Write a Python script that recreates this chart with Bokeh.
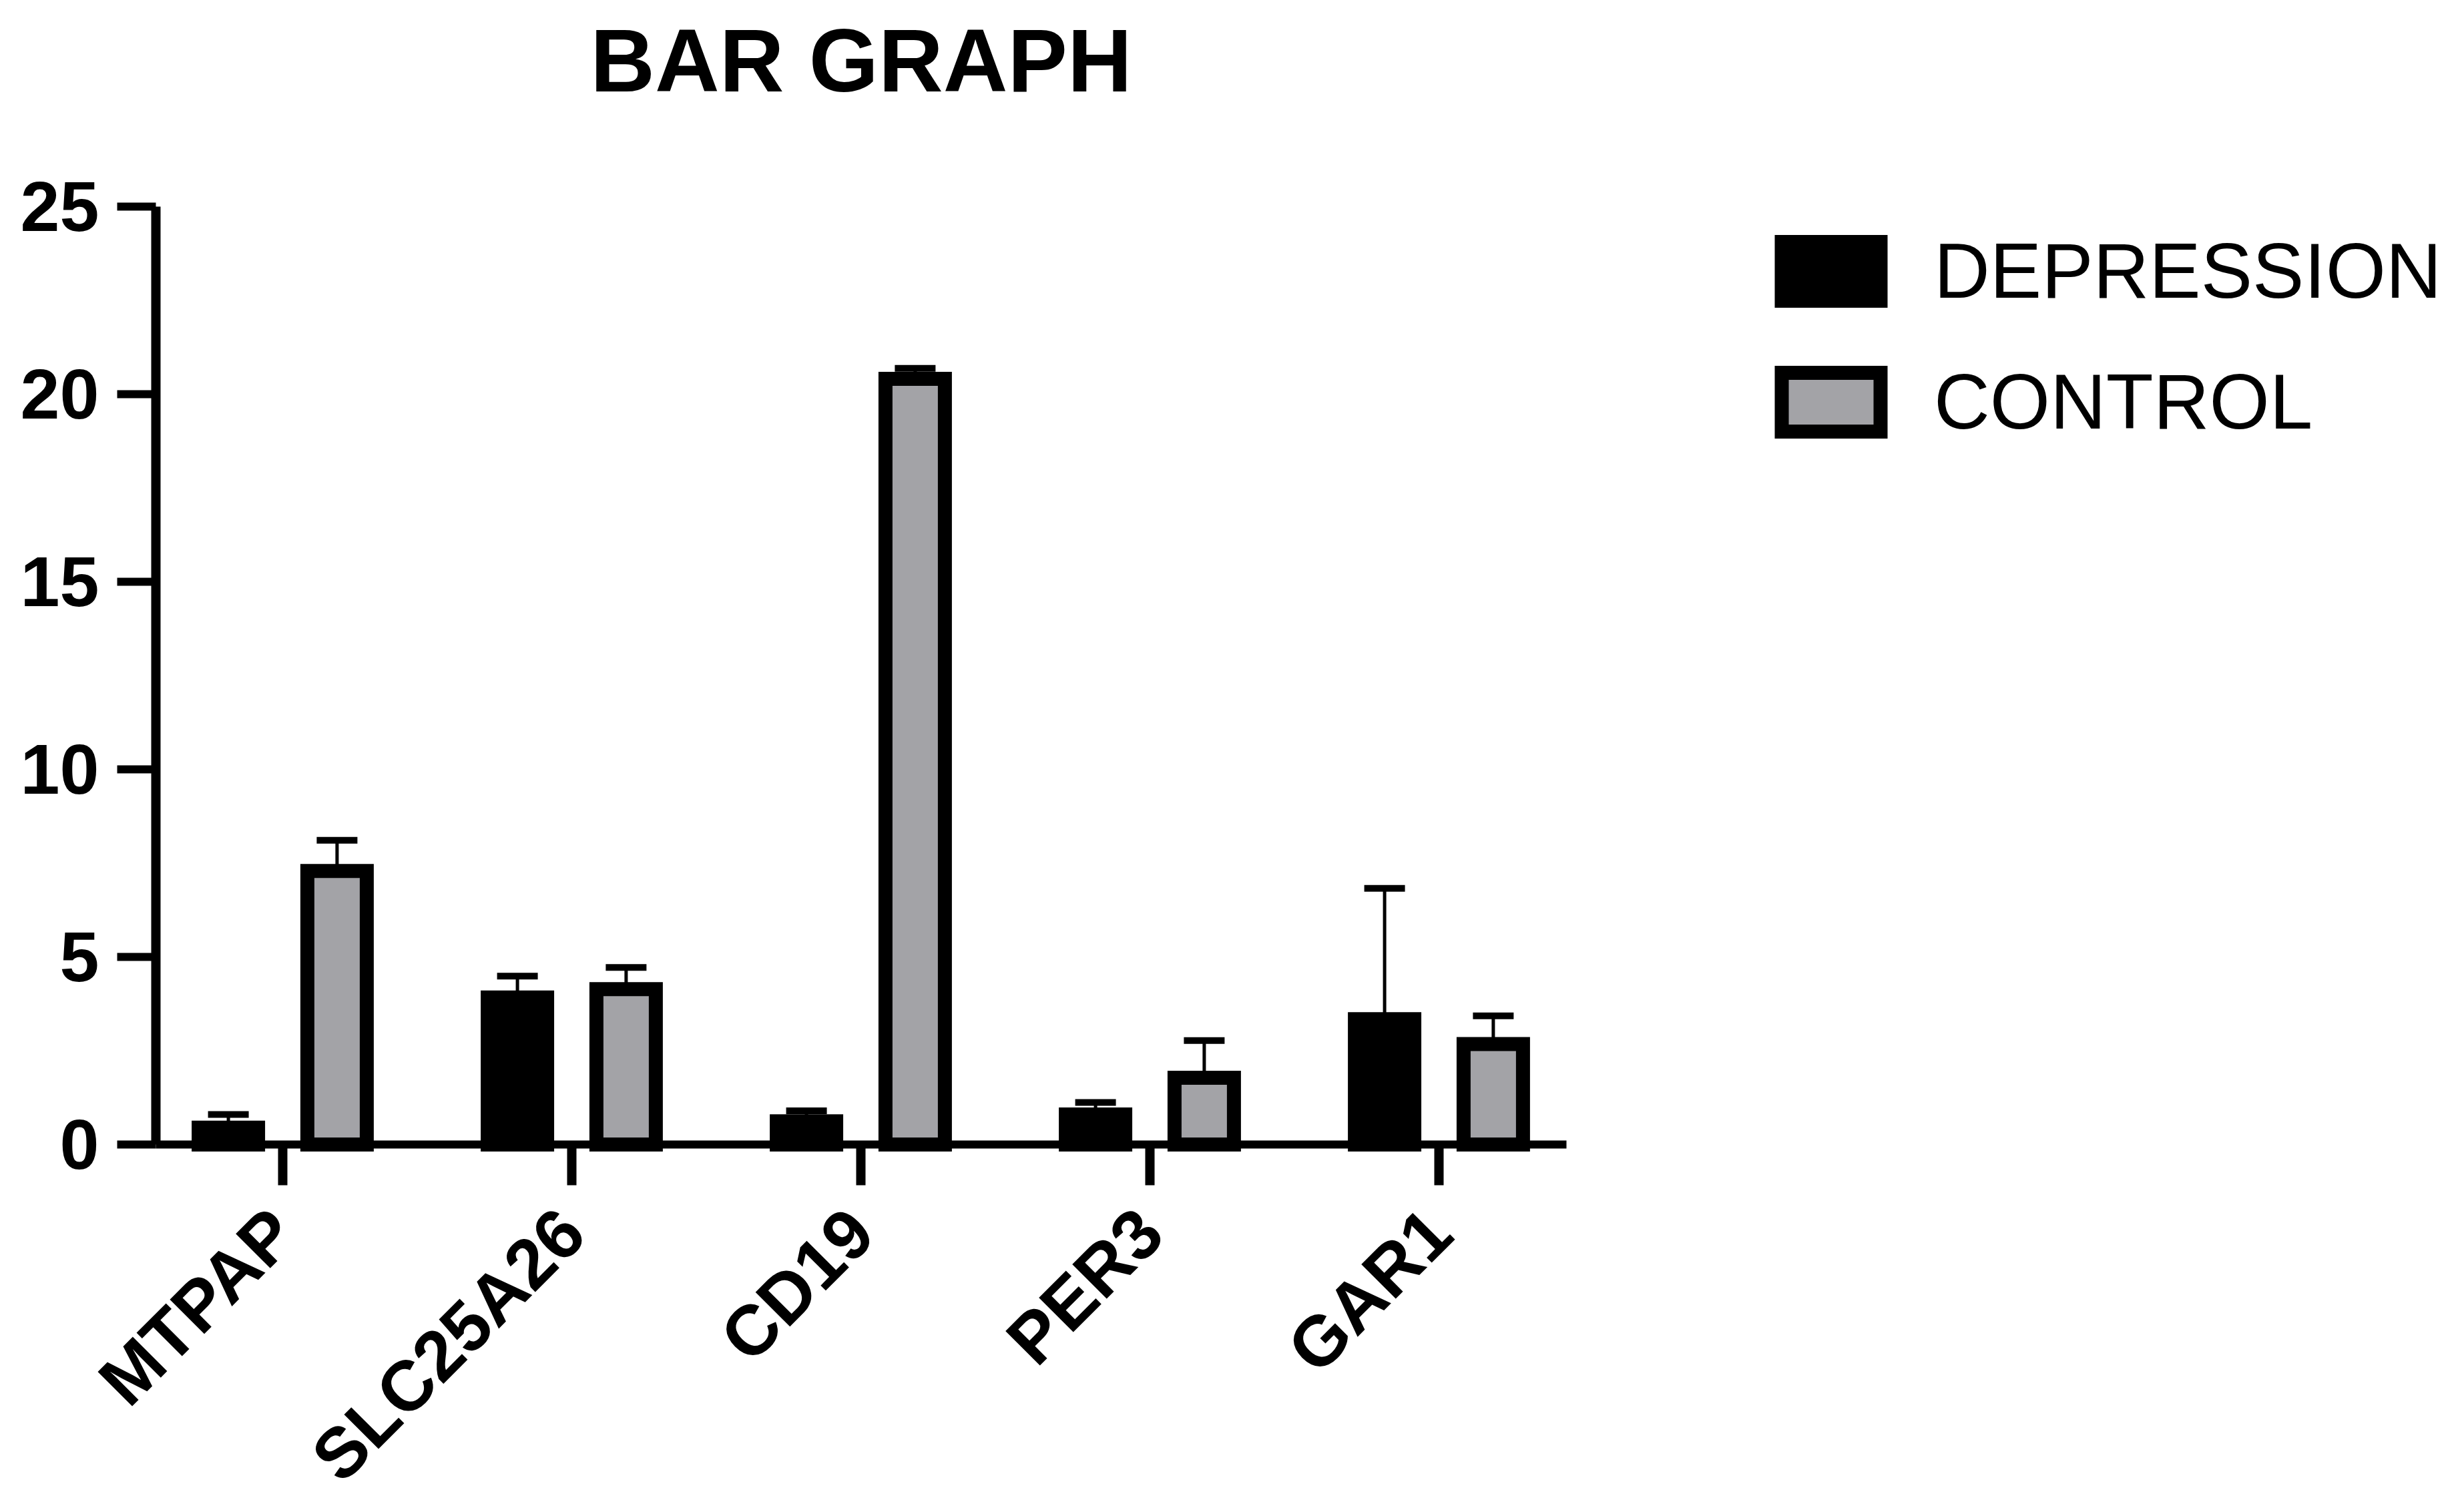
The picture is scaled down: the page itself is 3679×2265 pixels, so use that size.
import math
import numpy as np
from bokeh.plotting import figure
from bokeh.models import (ColumnDataSource, Range1d, FixedTicker, Whisker, TeeHead,
                          Legend, LegendItem, Label)
from bokeh.transform import dodge
from bokeh.embed import file_html
from bokeh.resources import INLINE

# ---- data ----
genes = ["MTPAP", "SLC25A26", "CD19", "PER3", "GAR1"]
depression = [0.45, 3.92, 0.62, 0.80, 3.34]
depression_err = [0.35, 0.57, 0.28, 0.32, 3.49]
control = [7.29, 4.14, 20.41, 1.78, 2.68]
control_err = [0.82, 0.58, 0.28, 0.99, 0.75]
y_ticks = [0, 5, 10, 15, 20, 25]
y_max = 25
series_names = ["DEPRESSION", "CONTROL"]
title_text = "BAR GRAPH"

# ---- layout (pixels) ----
FONT = "Liberation Sans"
GRAY = "#a3a3a7"
W, H = 3660, 2255
PX_PER_CAT = 433.0      # horizontal pixels per category
PX_PER_UNIT = 56.2      # vertical pixels per y unit
CAT0_X = 423            # pixel x of first category
ZERO_Y = 1714           # pixel y (from top) of value 0
AX_LEFT_PX, AX_RIGHT_PX = 233, 2346
TITLE_PX = 90           # anchor of the title label
OFF = 0.188
BAR_W = 0.2055

x_start = -CAT0_X / PX_PER_CAT
x_end = (W - CAT0_X) / PX_PER_CAT
y_start = -(H - ZERO_Y) / PX_PER_UNIT
y_end = ZERO_Y / PX_PER_UNIT
ax_left = (AX_LEFT_PX - CAT0_X) / PX_PER_CAT
ax_right = (AX_RIGHT_PX - CAT0_X) / PX_PER_CAT

idx = np.arange(len(genes))
src = ColumnDataSource(dict(
    x=idx,
    dep=depression,
    ctl=control,
    dep_x=idx - OFF,
    ctl_x=idx + OFF,
    dep_up=np.array(depression) + np.array(depression_err),
    ctl_up=np.array(control) + np.array(control_err),
))

p = figure(width=W, height=H, output_backend="svg", toolbar_location=None,
           title=None,
           x_range=Range1d(x_start, x_end), y_range=Range1d(y_start, y_end),
           min_border=0, min_border_left=0, min_border_right=0,
           min_border_top=0, min_border_bottom=0)
p.outline_line_color = None
p.xgrid.visible = False
p.ygrid.visible = False
p.background_fill_color = "white"
p.border_fill_color = "white"

r_dep = p.vbar(x=dodge("x", -OFF, range=p.x_range), top="dep", bottom=0, width=BAR_W,
               source=src, fill_color="black", line_color="black", line_width=21,
               line_join="miter")
r_ctl = p.vbar(x=dodge("x", OFF, range=p.x_range), top="ctl", bottom=0, width=BAR_W,
               source=src, fill_color=GRAY, line_color="black", line_width=21,
               line_join="miter")

for base, lo, up in (("dep_x", "dep", "dep_up"), ("ctl_x", "ctl", "ctl_up")):
    w = Whisker(source=src, base=base, lower=lo, upper=up, dimension="height",
                line_width=5, line_color="black", lower_head=None,
                upper_head=TeeHead(size=61, line_width=10, line_color="black"))
    p.add_layout(w)

# y axis
ya = p.yaxis[0]
ya.fixed_location = ax_left
ya.bounds = (0, y_max)
ya.ticker = FixedTicker(ticks=y_ticks)
ya.minor_tick_line_color = None
ya.major_tick_in = 0
ya.major_tick_out = 58
ya.major_tick_line_width = 12
ya.axis_line_width = 14
ya.major_label_standoff = 27
ya.major_label_text_font = FONT
ya.major_label_text_font_size = "106px"
ya.major_label_text_font_style = "bold"
ya.major_label_text_color = "black"

# x axis
xa = p.xaxis[0]
xa.fixed_location = 0
xa.bounds = (ax_left, ax_right)
xa.ticker = FixedTicker(ticks=list(idx))
xa.major_label_overrides = {int(i): g for i, g in zip(idx, genes)}
xa.minor_tick_line_color = None
xa.major_tick_in = 0
xa.major_tick_out = 61
xa.major_tick_line_width = 14
xa.axis_line_width = 12
xa.major_label_orientation = math.pi / 4
xa.major_label_standoff = 53
xa.major_label_text_font = FONT
xa.major_label_text_font_size = "106px"
xa.major_label_text_font_style = "bold"
xa.major_label_text_color = "black"

# title, centred over the axis span
title = Label(x=(ax_left + ax_right) / 2, y=(ZERO_Y - TITLE_PX) / PX_PER_UNIT,
              text=title_text, text_align="center", text_baseline="alphabetic",
              text_font=FONT, text_font_size="134px", text_font_style="bold",
              text_color="black")
p.add_layout(title)

legend = Legend(items=[LegendItem(label=series_names[0], renderers=[r_dep]),
                       LegendItem(label=series_names[1], renderers=[r_ctl])],
                location=(2650, H - 669), orientation="vertical",
                glyph_width=185, glyph_height=110, label_standoff=62,
                spacing=62, padding=0, margin=0,
                label_text_font=FONT, label_text_font_size="116px",
                label_text_color="black",
                border_line_alpha=0, background_fill_alpha=0)
p.add_layout(legend, "center")

open("out.html", "w").write(file_html(p, INLINE))
